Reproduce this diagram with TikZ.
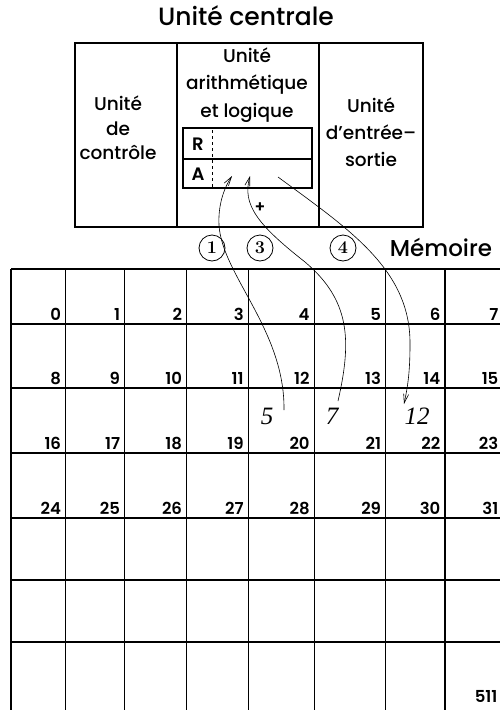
\documentclass[tikz,border=0pt]{standalone}
\usepackage{fontspec}
\newfontfamily\gothic{Poppins}[UprightFont=* Medium, BoldFont=* SemiBold]
\newfontfamily\timesfont{Liberation Serif}
\usetikzlibrary{arrows.meta}

\begin{document}
\begin{tikzpicture}[x=1pt, y=-1pt, line width=1.3pt,
        lbl/.style={font=\gothic\fontsize{18.5}{26}\selectfont, align=center, inner sep=0pt},
        titre/.style={font=\gothic\fontsize{23}{24}\selectfont, inner sep=0pt},
        num/.style={font=\gothic\bfseries\fontsize{16.5}{17}\selectfont, anchor=south east, inner sep=0pt},
        val/.style={font=\timesfont\itshape\fontsize{25}{25}\selectfont, inner sep=0pt},
        rond/.style={draw, circle, line width=0.8pt, minimum size=26pt, inner sep=0pt, font=\bfseries\fontsize{18}{18}\selectfont},
        fl/.style={line width=0.6pt, -{Straight Barb[length=9pt,width=5pt]}}]

    \useasboundingbox (0,0) rectangle (500,710);

    % --- unité centrale ---
    \node[titre, font=\gothic\fontsize{25}{26}\selectfont] (uc) at (246,16) {Unité centrale};
    \draw (75,43) rectangle (423,227);
    \draw (177,43) -- (177,227);
    \draw (319,43) -- (319,227);

    \node[lbl, font=\gothic\fontsize{18.5}{24.5}\selectfont] (ctrl) at (118,128) {Unité\\de\\contrôle};
    \node[lbl, font=\gothic\fontsize{18.5}{27.5}\selectfont] (ual) at (247,85) {Unité\\arithmétique\\et logique};
    \node[lbl, font=\gothic\fontsize{18.5}{27}\selectfont] (es) at (371,132) {Unité\\d’entrée–\\sortie};

    % --- registres R et A ---
    \draw (183,128) rectangle (312,188);
    \draw (183,159) -- (312,159);
    \draw[dashed, line width=0.7pt] (212,130) -- (212,188);
    \node[font=\gothic\bfseries\fontsize{18}{18}\selectfont] (r) at (198,144) {R};
    \node[font=\gothic\bfseries\fontsize{18}{18}\selectfont] (a) at (198,174) {A};
    \node[font=\gothic\bfseries\fontsize{16}{16}\selectfont] (plus) at (260,208) {+};

    % --- étapes et titre de la mémoire ---
    \node[rond] (e1) at (212,248) {1};
    \node[rond] (e3) at (260,248) {3};
    \node[rond] (e4) at (343,248) {4};
    \node[titre] (mem) at (441,247) {Mémoire};

    % --- grille de la mémoire ---
    \foreach \y in {269,324,388,453,518,580,642} {
        \draw (11,\y) -- (500,\y);
    }
    \foreach \x in {11,65.7,124.7,186.7,248.3,314.3,385.7,445} {
        \draw (\x,269) -- (\x,710);
    }

    % --- adresses des cases ---
    \foreach \r/\yb in {0/324, 1/388, 2/453, 3/518} {
        \foreach \c/\xr in {0/65.7, 1/124.7, 2/186.7, 3/248.3, 4/314.3, 5/385.7, 6/445, 7/503} {
            \pgfmathtruncatemacro\n{8*\r+\c}
            \node[num] (m\n) at (\xr-4,\yb-3) {\n};
        }
    }
    \node[num] (m511) at (498,703) {511};

    % --- contenus ---
    \node[val] (v5) at (267,416) {5};
    \node[val] (v7) at (332,416) {7};
    \node[val] (v12) at (417,416) {12};

    % --- transferts ---
    \coordinate (d1) at (284,410);
    \coordinate (f1) at (232,176);
    \coordinate (d3) at (338,401);
    \coordinate (f3) at (250,176);
    \coordinate (d4) at (278,177);
    \coordinate (f4) at (404,404);

    \draw[fl] (d1) .. controls (285,330) and (222,275) .. (219,225)
        .. controls (218,205) and (224,188) .. (f1);
    \draw[fl] (d3) .. controls (352,340) and (350,300) .. (305,262)
        .. controls (258,225) and (242,205) .. (f3);
    \draw[fl] (d4) .. controls (350,230) and (411,270) .. (410,345)
        .. controls (410,375) and (407,390) .. (f4);

\end{tikzpicture}
\end{document}
